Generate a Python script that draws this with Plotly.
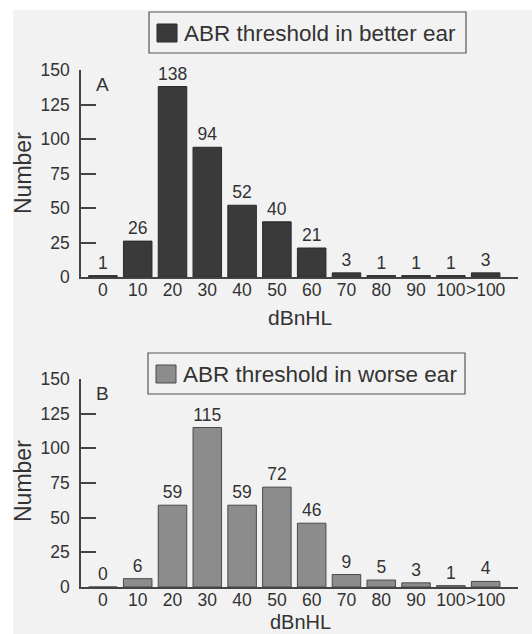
import plotly.graph_objects as go

categories = ["0", "10", "20", "30", "40", "50", "60", "70", "80", "90", "100", ">100"]
better_ear = [1, 26, 138, 94, 52, 40, 21, 3, 1, 1, 1, 3]
worse_ear = [0, 6, 59, 115, 59, 72, 46, 9, 5, 3, 1, 4]
y_ticks = [0, 25, 50, 75, 100, 125, 150]
name_a = "ABR threshold in better ear"
name_b = "ABR threshold in worse ear"

W, H = 532, 634
FONT = "Liberation Sans, Arial, Helvetica, sans-serif"
TXT = "#333333"


def px_x(p):
    return p / W


def px_y(p):
    return 1 - p / H


fig = go.Figure()
fig.add_trace(go.Bar(
    x=categories, y=better_ear, name=name_a, xaxis="x", yaxis="y",
    marker=dict(color="#3a3a3a", line=dict(color="#2a2a2a", width=1)),
    width=0.82, text=better_ear, textposition="outside", constraintext="none",
    cliponaxis=False, textfont=dict(size=17.5, color=TXT, family=FONT), showlegend=False,
))
fig.add_trace(go.Bar(
    x=categories, y=worse_ear, name=name_b, xaxis="x2", yaxis="y2",
    marker=dict(color="#8c8c8c", line=dict(color="#4a4a4a", width=1)),
    width=0.82, text=worse_ear, textposition="outside", constraintext="none",
    cliponaxis=False, textfont=dict(size=17.5, color=TXT, family=FONT), showlegend=False,
))

xr = [-0.63, 11.93]
common_x = dict(type="category", range=xr, showline=True, linecolor="#444444", linewidth=1.5,
                ticks="", showgrid=False, zeroline=False, tickangle=0, automargin=False,
                tickfont=dict(size=17.5, color=TXT, family=FONT), ticklabelstandoff=-4)
common_y = dict(range=[0, 150], tickvals=y_ticks, showline=True, linecolor="#444444",
                linewidth=1.5, ticks="inside", ticklen=15, tickwidth=1.5, tickcolor="#444444",
                showgrid=False, zeroline=False, ticklabelstandoff=6, automargin=False,
                tickfont=dict(size=17.5, color=TXT, family=FONT))

fig.update_layout(
    template="none",
    width=W, height=H, margin=dict(l=0, r=0, t=0, b=0, pad=0, autoexpand=False),
    autosize=False,
    paper_bgcolor="white", plot_bgcolor="rgba(0,0,0,0)",
    font=dict(family=FONT, color=TXT),
    bargap=0.18,
    xaxis=dict(domain=[px_x(81), px_x(518)], anchor="y", **common_x),
    yaxis=dict(domain=[px_y(277), px_y(70)], anchor="x", **common_y),
    xaxis2=dict(domain=[px_x(81), px_x(518)], anchor="y2", **common_x),
    yaxis2=dict(domain=[px_y(587), px_y(379)], anchor="x2", **common_y),
)

shapes = [
    dict(type="rect", xref="paper", yref="paper", x0=px_x(13), x1=1, y0=0, y1=px_y(10),
         fillcolor="#f2f2f2", line=dict(width=0), layer="below"),
    # legend A
    dict(type="rect", xref="paper", yref="paper", x0=px_x(149), x1=px_x(466), y0=px_y(53), y1=px_y(12),
         fillcolor="rgba(0,0,0,0)", line=dict(color="#555555", width=1.2)),
    dict(type="rect", xref="paper", yref="paper", x0=px_x(157), x1=px_x(177), y0=px_y(42), y1=px_y(24),
         fillcolor="#3a3a3a", line=dict(color="#2a2a2a", width=1)),
    # legend B
    dict(type="rect", xref="paper", yref="paper", x0=px_x(148), x1=px_x(465), y0=px_y(394), y1=px_y(353),
         fillcolor="rgba(0,0,0,0)", line=dict(color="#555555", width=1.2)),
    dict(type="rect", xref="paper", yref="paper", x0=px_x(156), x1=px_x(176), y0=px_y(383), y1=px_y(365),
         fillcolor="#8c8c8c", line=dict(color="#4a4a4a", width=1)),
]
fig.update_layout(shapes=shapes)

ann = [
    dict(text=name_a, x=px_x(182), y=px_y(33), xanchor="left", yanchor="middle",
         font=dict(size=22.5, color=TXT)),
    dict(text=name_b, x=px_x(181), y=px_y(374), xanchor="left", yanchor="middle",
         font=dict(size=22.5, color=TXT)),
    dict(text="A", x=px_x(94), y=px_y(84), xanchor="left", yanchor="middle", font=dict(size=19, color=TXT)),
    dict(text="B", x=px_x(94), y=px_y(393), xanchor="left", yanchor="middle", font=dict(size=19, color=TXT)),
    dict(text="Number", x=px_x(23), y=px_y(173), textangle=-90, xanchor="center", yanchor="middle",
         font=dict(size=23, color=TXT)),
    dict(text="Number", x=px_x(23), y=px_y(481), textangle=-90, xanchor="center", yanchor="middle",
         font=dict(size=23, color=TXT)),
    dict(text="dBnHL", x=px_x(300), y=px_y(317), xanchor="center", yanchor="middle",
         font=dict(size=21, color=TXT)),
    dict(text="dBnHL", x=px_x(300), y=px_y(622), xanchor="center", yanchor="middle",
         font=dict(size=20, color=TXT)),
]
for a in ann:
    a.update(xref="paper", yref="paper", showarrow=False)
fig.update_layout(annotations=ann)

fig.write_html("out.html", config={"displayModeBar": False},
               post_script="document.body.style.margin='0';document.body.style.overflow='hidden';")
